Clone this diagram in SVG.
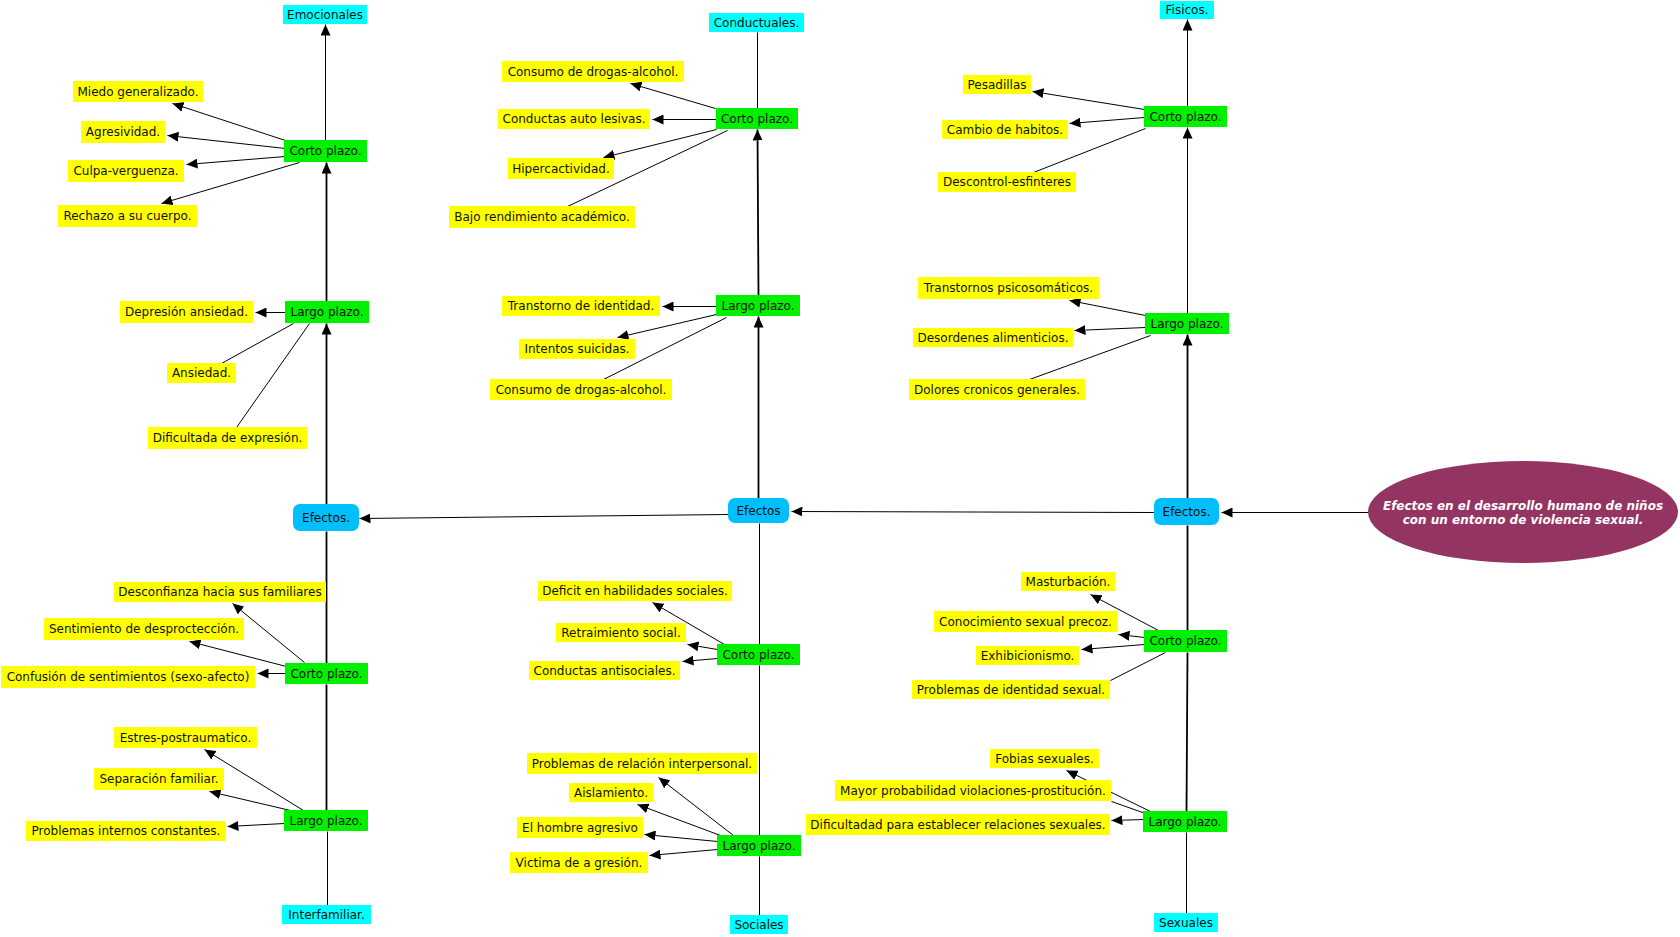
<svg xmlns="http://www.w3.org/2000/svg" width="1680" height="937" viewBox="0 0 1680 937">
<style>
.y{fill:#FFFF00}
.g{fill:#00F000}
.c{fill:#00FFFF}
.b{fill:#00BFFF}
text{font-family:"DejaVu Sans",Verdana,sans-serif;font-size:12px;fill:#111;text-anchor:middle}
.ln{stroke:#000;stroke-width:1;fill:none}
.th{stroke:#000;stroke-width:1.8;fill:none}
.ar{marker-end:url(#ah)}
.title{font-weight:bold;font-style:italic;fill:#fff;font-size:12px}
</style>
<defs>
<marker id="ah" markerUnits="userSpaceOnUse" markerWidth="11" markerHeight="10" refX="11" refY="5" orient="auto">
<path d="M0,0 L11,5 L0,10 z" fill="#000"/>
</marker>
</defs>
<rect width="1680" height="937" fill="#fff"/>
<g id="connectors" transform="translate(0.5,0.5)">
<line class="ln ar" x1="1368" y1="512" x2="1221" y2="512"/>
<line class="ln ar" x1="1154" y1="512" x2="791" y2="511"/>
<line class="ln ar" x1="728" y1="514" x2="359" y2="518"/>
<line class="th ar" x1="1187" y1="498" x2="1187" y2="334"/>
<line class="ln ar" x1="1187" y1="313" x2="1187" y2="127"/>
<line class="ln ar" x1="1187" y1="106" x2="1187" y2="19"/>
<line class="th" x1="1187" y1="525" x2="1187" y2="630"/>
<line class="th" x1="1187" y1="652" x2="1186" y2="811"/>
<line class="ln" x1="1186" y1="832" x2="1186" y2="913"/>
<line class="th ar" x1="758" y1="498" x2="758" y2="316"/>
<line class="th ar" x1="758" y1="295" x2="757" y2="129"/>
<line class="ln" x1="757" y1="108" x2="757" y2="32"/>
<line class="ln" x1="759" y1="523" x2="759" y2="644"/>
<line class="ln" x1="759" y1="665" x2="759" y2="835"/>
<line class="ln" x1="759" y1="856" x2="759" y2="915"/>
<line class="th ar" x1="326" y1="504" x2="326" y2="323"/>
<line class="th ar" x1="326" y1="301" x2="326" y2="162"/>
<line class="ln ar" x1="325" y1="140" x2="325" y2="24"/>
<line class="th" x1="326" y1="531" x2="326" y2="663"/>
<line class="th" x1="326" y1="684" x2="326" y2="810"/>
<line class="ln" x1="327" y1="831" x2="327" y2="905"/>
<line class="ln ar" x1="285" y1="140" x2="172" y2="103"/>
<line class="ln ar" x1="285" y1="148" x2="167" y2="135"/>
<line class="ln ar" x1="285" y1="156" x2="186" y2="164"/>
<line class="ln ar" x1="299" y1="162" x2="161" y2="203"/>
<line class="ln ar" x1="285" y1="312" x2="255" y2="312"/>
<line class="ln" x1="293" y1="323" x2="221" y2="363"/>
<line class="ln" x1="309" y1="323" x2="236" y2="427"/>
<line class="ln ar" x1="304" y1="662" x2="232" y2="603"/>
<line class="ln ar" x1="286" y1="666" x2="189" y2="641"/>
<line class="ln ar" x1="285" y1="673" x2="257" y2="673"/>
<line class="ln ar" x1="303" y1="810" x2="204" y2="749"/>
<line class="ln ar" x1="290" y1="810" x2="209" y2="791"/>
<line class="ln ar" x1="284" y1="823" x2="227" y2="826"/>
<line class="ln ar" x1="715" y1="108" x2="630" y2="83"/>
<line class="ln ar" x1="716" y1="119" x2="652" y2="119"/>
<line class="ln ar" x1="716" y1="129" x2="603" y2="157"/>
<line class="ln" x1="727" y1="130" x2="567" y2="206"/>
<line class="ln ar" x1="716" y1="306" x2="662" y2="306"/>
<line class="ln ar" x1="716" y1="314" x2="617" y2="337"/>
<line class="ln" x1="726" y1="317" x2="603" y2="379"/>
<line class="ln ar" x1="724" y1="644" x2="652" y2="602"/>
<line class="ln ar" x1="717" y1="649" x2="687" y2="644"/>
<line class="ln ar" x1="717" y1="658" x2="682" y2="661"/>
<line class="ln ar" x1="733" y1="835" x2="658" y2="777"/>
<line class="ln ar" x1="720" y1="835" x2="637" y2="804"/>
<line class="ln ar" x1="717" y1="841" x2="644" y2="834"/>
<line class="ln ar" x1="717" y1="849" x2="649" y2="855"/>
<line class="ln ar" x1="1144" y1="109" x2="1032" y2="91"/>
<line class="ln ar" x1="1144" y1="117" x2="1069" y2="123"/>
<line class="ln" x1="1145" y1="128" x2="1033" y2="172"/>
<line class="ln ar" x1="1145" y1="315" x2="1069" y2="300"/>
<line class="ln ar" x1="1145" y1="327" x2="1074" y2="330"/>
<line class="ln" x1="1150" y1="335" x2="1029" y2="379"/>
<line class="ln ar" x1="1158" y1="630" x2="1090" y2="594"/>
<line class="ln ar" x1="1144" y1="637" x2="1118" y2="634"/>
<line class="ln ar" x1="1144" y1="644" x2="1081" y2="649"/>
<line class="ln" x1="1165" y1="652" x2="1110" y2="680"/>
<line class="ln ar" x1="1150" y1="811" x2="1066" y2="770"/>
<line class="ln" x1="1145" y1="813" x2="1111" y2="801"/>
<line class="ln ar" x1="1143" y1="819" x2="1111" y2="820"/>
</g>

<g id="root"><ellipse cx="1523" cy="512" rx="155" ry="51" fill="#943462"/><text class="title" x="1523" y="510">Efectos en el desarrollo humano de niños</text><text class="title" x="1523" y="524">con un entorno de violencia sexual.</text></g>

<g id="efectos-der"><rect class="b" x="1154" y="498" width="65" height="27" rx="7"/><text x="1186.5" y="515.5">Efectos.</text></g>
<g id="efectos-centro"><rect class="b" x="728" y="498" width="61" height="25" rx="7"/><text x="758.5" y="514.5">Efectos</text></g>
<g id="efectos-izq"><rect class="b" x="293" y="504" width="66" height="27" rx="7"/><text x="326" y="521.5">Efectos.</text></g>

<g id="emocionales"><rect class="c" x="283" y="5" width="84" height="19"/><text x="325" y="18.5">Emocionales</text></g>
<g id="emo-corto"><rect class="g" x="284" y="140" width="83" height="22"/><text x="325.5" y="155">Corto plazo.</text></g>
<g id="emo-largo"><rect class="g" x="285" y="301" width="84" height="22"/><text x="327" y="316">Largo plazo.</text></g>
<g id="miedo"><rect class="y" x="73" y="81" width="130" height="21"/><text x="138" y="95.5">Miedo generalizado.</text></g>
<g id="agresividad"><rect class="y" x="81" y="121" width="84" height="22"/><text x="123" y="136">Agresividad.</text></g>
<g id="culpa"><rect class="y" x="68" y="160" width="116" height="22"/><text x="126" y="175">Culpa-verguenza.</text></g>
<g id="rechazo"><rect class="y" x="58" y="205" width="139" height="22"/><text x="127.5" y="220">Rechazo a su cuerpo.</text></g>
<g id="depresion"><rect class="y" x="120" y="301" width="133" height="22"/><text x="186.5" y="316">Depresión ansiedad.</text></g>
<g id="ansiedad"><rect class="y" x="167" y="363" width="69" height="20"/><text x="201.5" y="377">Ansiedad.</text></g>
<g id="dificultada"><rect class="y" x="148" y="427" width="159" height="22"/><text x="227.5" y="442">Dificultada de expresión.</text></g>

<g id="interfamiliar"><rect class="c" x="282" y="905" width="89" height="19"/><text x="326.5" y="918.5">Interfamiliar.</text></g>
<g id="inter-corto"><rect class="g" x="285" y="663" width="83" height="21"/><text x="326.5" y="677.5">Corto plazo.</text></g>
<g id="inter-largo"><rect class="g" x="284" y="810" width="84" height="21"/><text x="326" y="824.5">Largo plazo.</text></g>
<g id="desconfianza"><rect class="y" x="114" y="582" width="212" height="20"/><text x="220" y="596">Desconfianza hacia sus familiares</text></g>
<g id="sentimiento"><rect class="y" x="44" y="618" width="200" height="22"/><text x="144" y="633">Sentimiento de desproctección.</text></g>
<g id="confusion"><rect class="y" x="1" y="666" width="254" height="22"/><text x="128" y="681">Confusión de sentimientos (sexo-afecto)</text></g>
<g id="estres"><rect class="y" x="114" y="727" width="143" height="21"/><text x="185.5" y="741.5">Estres-postraumatico.</text></g>
<g id="separacion"><rect class="y" x="94" y="768" width="130" height="22"/><text x="159" y="783">Separación familiar.</text></g>
<g id="problemas-internos"><rect class="y" x="26" y="821" width="200" height="20"/><text x="126" y="835">Problemas internos constantes.</text></g>

<g id="conductuales"><rect class="c" x="709" y="13" width="95" height="19"/><text x="756.5" y="26.5">Conductuales.</text></g>
<g id="cond-corto"><rect class="g" x="716" y="108" width="82" height="21"/><text x="757" y="122.5">Corto plazo.</text></g>
<g id="cond-largo"><rect class="g" x="716" y="295" width="84" height="21"/><text x="758" y="309.5">Largo plazo.</text></g>
<g id="consumo1"><rect class="y" x="502" y="61" width="182" height="21"/><text x="593" y="75.5">Consumo de drogas-alcohol.</text></g>
<g id="conductas-lesivas"><rect class="y" x="498" y="109" width="152" height="20"/><text x="574" y="123">Conductas auto lesivas.</text></g>
<g id="hiper"><rect class="y" x="508" y="158" width="106" height="21"/><text x="561" y="172.5">Hipercactividad.</text></g>
<g id="bajo"><rect class="y" x="449" y="206" width="186" height="22"/><text x="542" y="221">Bajo rendimiento académico.</text></g>
<g id="transtorno"><rect class="y" x="502" y="296" width="158" height="20"/><text x="581" y="310">Transtorno de identidad.</text></g>
<g id="intentos"><rect class="y" x="519" y="339" width="116" height="20"/><text x="577" y="353">Intentos suicidas.</text></g>
<g id="consumo2"><rect class="y" x="490" y="379" width="182" height="21"/><text x="581" y="393.5">Consumo de drogas-alcohol.</text></g>

<g id="sociales"><rect class="c" x="730" y="915" width="58" height="19"/><text x="759" y="928.5">Sociales</text></g>
<g id="soc-corto"><rect class="g" x="717" y="644" width="83" height="21"/><text x="758.5" y="658.5">Corto plazo.</text></g>
<g id="soc-largo"><rect class="g" x="717" y="835" width="84" height="21"/><text x="759" y="849.5">Largo plazo.</text></g>
<g id="deficit"><rect class="y" x="538" y="581" width="194" height="20"/><text x="635" y="595">Deficit en habilidades sociales.</text></g>
<g id="retraimiento"><rect class="y" x="556" y="623" width="130" height="19"/><text x="621" y="636.5">Retraimiento social.</text></g>
<g id="antisociales"><rect class="y" x="529" y="661" width="151" height="19"/><text x="604.5" y="674.5">Conductas antisociales.</text></g>
<g id="problemas-relacion"><rect class="y" x="527" y="753" width="230" height="21"/><text x="642" y="767.5">Problemas de relación interpersonal.</text></g>
<g id="aislamiento"><rect class="y" x="569" y="783" width="84" height="19"/><text x="611" y="796.5">Aislamiento.</text></g>
<g id="hombre"><rect class="y" x="517" y="817" width="126" height="21"/><text x="580" y="831.5">El hombre agresivo</text></g>
<g id="victima"><rect class="y" x="510" y="852" width="138" height="21"/><text x="579" y="866.5">Victima de a gresión.</text></g>

<g id="fisicos"><rect class="c" x="1160" y="1" width="54" height="18"/><text x="1187" y="14">Fisicos.</text></g>
<g id="fis-corto"><rect class="g" x="1144" y="106" width="83" height="21"/><text x="1185.5" y="120.5">Corto plazo.</text></g>
<g id="fis-largo"><rect class="g" x="1145" y="313" width="84" height="21"/><text x="1187" y="327.5">Largo plazo.</text></g>
<g id="pesadillas"><rect class="y" x="963" y="75" width="68" height="19"/><text x="997" y="88.5">Pesadillas</text></g>
<g id="cambio"><rect class="y" x="942" y="120" width="126" height="19"/><text x="1005" y="133.5">Cambio de habitos.</text></g>
<g id="descontrol"><rect class="y" x="938" y="172" width="138" height="20"/><text x="1007" y="186">Descontrol-esfinteres</text></g>
<g id="psicosomaticos"><rect class="y" x="918" y="277" width="181" height="22"/><text x="1008.5" y="292">Transtornos psicosomáticos.</text></g>
<g id="desordenes"><rect class="y" x="913" y="328" width="160" height="19"/><text x="993" y="341.5">Desordenes alimenticios.</text></g>
<g id="dolores"><rect class="y" x="909" y="379" width="176" height="21"/><text x="997" y="393.5">Dolores cronicos generales.</text></g>

<g id="sexuales"><rect class="c" x="1154" y="913" width="64" height="19"/><text x="1186" y="926.5">Sexuales</text></g>
<g id="sex-corto"><rect class="g" x="1144" y="630" width="83" height="22"/><text x="1185.5" y="645">Corto plazo.</text></g>
<g id="sex-largo"><rect class="g" x="1143" y="811" width="84" height="21"/><text x="1185" y="825.5">Largo plazo.</text></g>
<g id="masturbacion"><rect class="y" x="1021" y="572" width="94" height="19"/><text x="1068" y="585.5">Masturbación.</text></g>
<g id="conocimiento"><rect class="y" x="934" y="611" width="183" height="21"/><text x="1025.5" y="625.5">Conocimiento sexual precoz.</text></g>
<g id="exhibicionismo"><rect class="y" x="976" y="646" width="103" height="19"/><text x="1027.5" y="659.5">Exhibicionismo.</text></g>
<g id="identidad-sexual"><rect class="y" x="912" y="680" width="198" height="19"/><text x="1011" y="693.5">Problemas de identidad sexual.</text></g>
<g id="fobias"><rect class="y" x="990" y="749" width="109" height="19"/><text x="1044.5" y="762.5">Fobias sexuales.</text></g>
<g id="mayor"><rect class="y" x="835" y="780" width="276" height="21"/><text x="973" y="794.5">Mayor probabilidad violaciones-prostitución.</text></g>
<g id="dificultadad"><rect class="y" x="806" y="814" width="304" height="21"/><text x="958" y="828.5">Dificultadad para establecer relaciones sexuales.</text></g>
</svg>
